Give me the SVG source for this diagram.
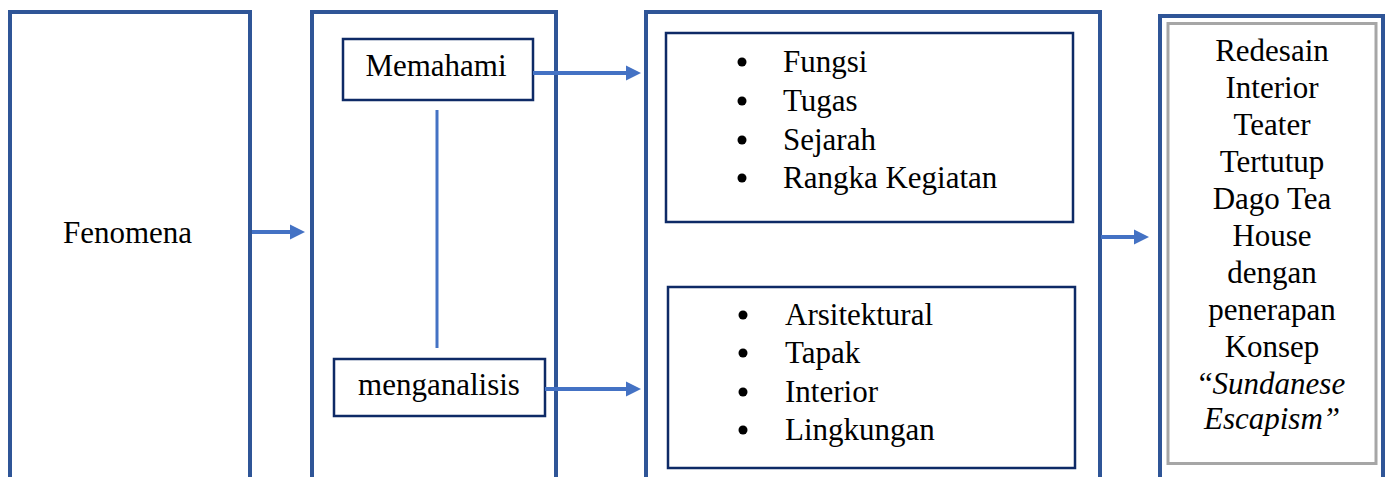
<svg xmlns="http://www.w3.org/2000/svg" width="1391" height="477" viewBox="0 0 1391 477">
<style>
.outer{fill:#ffffff;stroke:#2f5597;stroke-width:4}
.inner{fill:#ffffff;stroke:#0e2a66;stroke-width:2.5}
.gray{fill:none;stroke:#a6a6a6;stroke-width:3}
.t{font-size:31px;fill:#000}
.c{text-anchor:middle}
.conn{stroke:#4472c4;stroke-width:4;fill:none}
.ah{fill:#4472c4}
</style>
<rect width="1391" height="477" fill="#ffffff"/>
<g font-family="'Liberation Serif', 'DejaVu Serif', serif">
<g id="fenomena">
<rect class="outer" x="10" y="12" width="240" height="480"/>
<text class="t" x="63" y="243">Fenomena</text>
</g>
<g id="process">
<rect class="outer" x="312" y="12" width="244" height="480"/>
</g>
<g id="memahami">
<rect class="inner" x="343" y="39" width="190" height="61"/>
<text class="t c" x="436" y="76">Memahami</text>
</g>
<g id="menganalisis">
<rect class="inner" x="334" y="359" width="211" height="57"/>
<text class="t c" x="439" y="395">menganalisis</text>
</g>
<g id="analysis">
<rect class="outer" x="646" y="12" width="454" height="480"/>
</g>
<g id="list1">
<rect class="inner" x="666" y="33" width="407" height="189"/>
<circle cx="742" cy="62" r="4.5"/>
<circle cx="742" cy="101" r="4.5"/>
<circle cx="742" cy="140" r="4.5"/>
<circle cx="742" cy="178" r="4.5"/>
<text class="t" x="783" y="72">Fungsi</text>
<text class="t" x="783" y="111">Tugas</text>
<text class="t" x="783" y="150">Sejarah</text>
<text class="t" x="783" y="188">Rangka Kegiatan</text>
</g>
<g id="list2">
<rect class="inner" x="668" y="287" width="407" height="181"/>
<circle cx="743" cy="315" r="4.5"/>
<circle cx="743" cy="353" r="4.5"/>
<circle cx="743" cy="392" r="4.5"/>
<circle cx="743" cy="430" r="4.5"/>
<text class="t" x="785" y="325">Arsitektural</text>
<text class="t" x="785" y="363">Tapak</text>
<text class="t" x="785" y="402">Interior</text>
<text class="t" x="785" y="440">Lingkungan</text>
</g>
<g id="result">
<rect class="outer" x="1160" y="16" width="223" height="480"/>
<rect class="gray" x="1168" y="23.5" width="208" height="440"/>
<text class="t c" x="1272" y="61">Redesain</text>
<text class="t c" x="1272" y="98">Interior</text>
<text class="t c" x="1272" y="135">Teater</text>
<text class="t c" x="1272" y="172">Tertutup</text>
<text class="t c" x="1272" y="209">Dago Tea</text>
<text class="t c" x="1272" y="246">House</text>
<text class="t c" x="1272" y="283">dengan</text>
<text class="t c" x="1272" y="320">penerapan</text>
<text class="t c" x="1272" y="357">Konsep</text>
<text class="t c" x="1272" y="394">“<tspan font-style="italic">Sundanese</tspan></text>
<text class="t c" x="1272" y="429" font-style="italic">Escapism”</text>
</g>
</g>
<g id="connectors">
<line class="conn" x1="437" y1="110" x2="437" y2="348" style="stroke-width:3"/>
<line class="conn" x1="252" y1="232" x2="292" y2="232"/>
<polygon class="ah" points="290,224.5 305,232 290,239.5"/>
<line class="conn" x1="533" y1="73" x2="628" y2="73"/>
<polygon class="ah" points="626,65.5 641,73 626,80.5"/>
<line class="conn" x1="545" y1="389" x2="628" y2="389"/>
<polygon class="ah" points="626,381.5 641,389 626,396.5"/>
<line class="conn" x1="1101" y1="237" x2="1136" y2="237"/>
<polygon class="ah" points="1134,229.5 1149,237 1134,244.5"/>
</g>
</svg>
